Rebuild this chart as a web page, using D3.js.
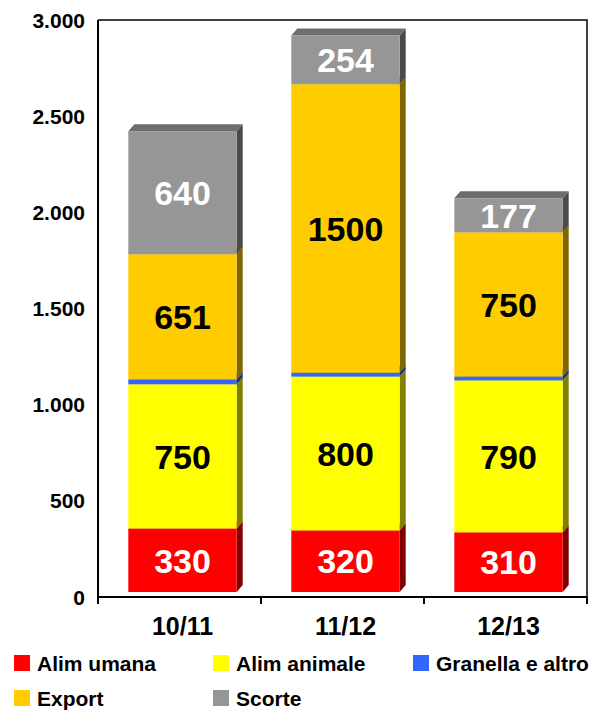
<!DOCTYPE html>
<html>
<head>
<meta charset="utf-8">
<script src="https://cdn.jsdelivr.net/npm/d3@7"></script>
<style>
  body { margin: 0; background: #fff; }
  text { font-family: "Liberation Sans", Arial, sans-serif; font-weight: bold; }
</style>
</head>
<body>
<script>
const categories = ["10/11", "11/12", "12/13"];
const seriesNames = ["Alim umana", "Alim animale", "Granella e altro", "Export", "Scorte"];
const alimUmana   = [330, 320, 310];
const alimAnimale = [750, 800, 790];
const granella    = [25, 20, 20];
const exportVals  = [651, 1500, 750];
const scorte      = [640, 254, 177];
const yTicks = [0, 500, 1000, 1500, 2000, 2500, 3000];

const seriesVals = [alimUmana, alimAnimale, granella, exportVals, scorte];
const front = ["#ff0000", "#ffff00", "#3366ff", "#ffcc00", "#969696"];
const side  = ["#800000", "#808000", "#1a3380", "#806600", "#4b4b4b"];
const topc  = ["#c00000", "#c0c000", "#2650c0", "#c09900", "#6e6e6e"];
const labelColor = ["#fff", "#000", null, "#000", "#fff"];

const W = 598, H = 712;
const pLeft = 98, pRight = 587, pTop = 20, axisY = 597;
const dx = 6, dy = 7;

const svg = d3.select("body").append("svg").attr("width", W).attr("height", H);

const x = d3.scaleBand().domain(categories).range([pLeft, pRight]);
const y = d3.scaleLinear().domain([0, 3000]).range([axisY, pTop]);
// front faces sit a bit above the axis line
const yb = d3.scaleLinear().domain([0, 3000]).range([axisY - 5, pTop - 5]);

// frame top and right
svg.append("path")
  .attr("d", `M${pLeft},${pTop}H${pRight}V${axisY}`)
  .attr("fill", "none").attr("stroke", "#000").attr("stroke-width", 1.5);

// y axis labels
svg.selectAll(".ylab").data(yTicks).enter().append("text")
  .attr("x", 85).attr("y", d => y(d)).attr("dy", "0.36em")
  .attr("text-anchor", "end").attr("font-size", 21)
  .text(d => d3.format(",")(d).replace(",", "."));

// stacked data
const stacks = categories.map((c, i) => {
  let acc = 0;
  return seriesVals.map((s, k) => {
    const seg = { c, k, y0: acc, y1: acc + s[i], v: s[i] };
    acc += s[i];
    return seg;
  });
});

const bw = x.bandwidth() * 0.665;
stacks.forEach(segs => {
  const g = svg.append("g");
  const x0 = x(segs[0].c) + (x.bandwidth() - bw) / 2 + 3;
  const x1 = x0 + bw;
  segs.forEach(s => {
    const yt = yb(s.y1), ybt = yb(s.y0);
    g.append("path")
      .attr("d", `M${x1},${ybt}L${x1 + dx},${ybt - dy}L${x1 + dx},${yt - dy}L${x1},${yt}Z`)
      .attr("fill", side[s.k]);
    g.append("path")
      .attr("d", `M${x0},${yt}L${x0 + dx},${yt - dy}L${x1 + dx},${yt - dy}L${x1},${yt}Z`)
      .attr("fill", topc[s.k]);
    g.append("rect")
      .attr("x", x0).attr("y", yt).attr("width", bw).attr("height", ybt - yt)
      .attr("fill", front[s.k]);
  });
  segs.filter(s => labelColor[s.k]).forEach(s => {
    g.append("text")
      .attr("x", (x0 + x1) / 2).attr("y", (yb(s.y0) + yb(s.y1)) / 2)
      .attr("dy", "0.36em").attr("text-anchor", "middle")
      .attr("font-size", 34).attr("fill", labelColor[s.k])
      .text(s.v);
  });
});

// axes lines
svg.append("line").attr("x1", pLeft).attr("x2", pLeft).attr("y1", pTop).attr("y2", axisY + 7)
  .attr("stroke", "#000").attr("stroke-width", 2);
svg.append("line").attr("x1", pLeft).attr("x2", pRight).attr("y1", axisY).attr("y2", axisY)
  .attr("stroke", "#000").attr("stroke-width", 2);
const tickX = categories.map(c => x(c)).concat([pRight]);
svg.selectAll(".xt").data(tickX).enter().append("line")
  .attr("x1", d => d).attr("x2", d => d).attr("y1", axisY).attr("y2", axisY + 7)
  .attr("stroke", "#000").attr("stroke-width", 2);

svg.selectAll(".xlab").data(categories).enter().append("text")
  .attr("x", d => x(d) + x.bandwidth() / 2 + 3).attr("y", 635)
  .attr("text-anchor", "middle").attr("font-size", 25)
  .text(d => d);

// legend
const legX = [14, 213, 413];
const leg = svg.selectAll(".leg").data(seriesNames).enter().append("g")
  .attr("transform", (d, i) => `translate(${legX[i % 3]},${i < 3 ? 655 : 690})`);
leg.append("rect").attr("width", 16).attr("height", 16).attr("fill", (d, i) => front[i]);
leg.append("text").attr("x", 23).attr("y", 16).attr("font-size", 21).text(d => d);
</script>
</body>
</html>
